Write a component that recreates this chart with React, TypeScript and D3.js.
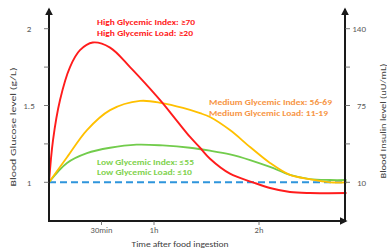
import React from 'react';
import * as d3 from 'd3';

// curves: [minutes after ingestion, blood glucose g/L]
const highGI: [number, number][] = [
  [0, 1.0], [2.3, 1.275], [6.3, 1.536], [12, 1.75], [17.7, 1.86], [25, 1.91],
  [34.9, 1.877], [46.3, 1.75], [57.7, 1.61], [64.6, 1.52], [73.1, 1.4],
  [80.6, 1.295], [86.3, 1.225], [92, 1.153], [103.4, 1.056], [116.5, 1.0],
  [126.3, 0.963], [137.7, 0.937], [149, 0.93], [170, 0.93],
];
const mediumGI: [number, number][] = [
  [0, 1.0], [10.3, 1.163], [21.7, 1.34], [34.9, 1.47], [52, 1.53], [64.6, 1.516],
  [76.6, 1.484], [86.3, 1.45], [92, 1.425], [103.4, 1.34], [114.9, 1.23],
  [126.3, 1.126], [137.7, 1.048], [149, 1.02], [160.6, 1.0], [170, 1.0],
];
const lowGI: [number, number][] = [
  [0, 1.0], [10.3, 1.126], [21.7, 1.19], [34.9, 1.225], [50, 1.245],
  [65, 1.24], [80.6, 1.225], [92, 1.206], [103.4, 1.182], [114.9, 1.145],
  [126.3, 1.1], [137.7, 1.048], [149, 1.021], [160.6, 1.015], [170, 1.015],
];
const baseline: [number, number][] = [[0, 1.0], [170, 1.0]];

const glucoseTicks = [1, 1.5, 2];
const glucoseMinor = [1.25, 1.75];
const insulinTicks = [10, 75, 140];
const insulinMinor = [42.5, 107.5];
const timeTicks = [30, 60, 120];
const timeLabels = ['30min', '1h', '2h'];

const highLabels = ['High Glycemic Index: ≥70', 'High Glycemic Load: ≥20'];
const mediumLabels = ['Medium Glycemic Index: 56-69', 'Medium Glycemic Load: 11-19'];
const lowLabels = ['Low Glycemic Index: ≤55', 'Low Glycemic Load: ≤10'];

const font = 'Calibri, Carlito, "Open Sans", sans-serif';

export default function App() {
  const W = 387, H = 250;
  const x = d3.scaleLinear().domain([0, 170]).range([49, 346.5]);
  const yG = d3.scaleLinear().domain([1, 2]).range([182.3, 28.7]);
  const yI = d3.scaleLinear().domain([10, 140]).range([182.3, 28.7]);
  const line = d3.line<[number, number]>()
    .x(d => x(d[0]))
    .y(d => yG(d[1]))
    .curve(d3.curveCatmullRom.alpha(0.5));

  const left = 49, right = 345, bottom = 221, top = 9;
  const axisCol = '#1a1a1a';
  const tickCol = '#595959';

  return (
    <svg width={W} height={H} style={{ position: 'absolute', left: 0, top: 0, background: '#fff' }}>
      <defs>
        <marker id="arr" viewBox="0 0 10 10" refX="8" refY="5" markerWidth="4" markerHeight="4" orient="auto">
          <path d="M0,0 L10,5 L0,10 z" fill={axisCol} />
        </marker>
      </defs>

      <path d={line(baseline)!} fill="none" stroke="#2e95dc" strokeWidth={2} strokeDasharray="7,4" />
      <path d={line(lowGI)!} fill="none" stroke="#72cc4c" strokeWidth={1.8} />
      <path d={line(mediumGI)!} fill="none" stroke="#ffc000" strokeWidth={1.8} />
      <path d={line(highGI)!} fill="none" stroke="#ff1c1c" strokeWidth={1.9} />

      {/* axes */}
      <line x1={left} y1={bottom} x2={left} y2={top} stroke={axisCol} strokeWidth={2} markerEnd="url(#arr)" />
      <line x1={right} y1={bottom} x2={right} y2={top} stroke={axisCol} strokeWidth={2} markerEnd="url(#arr)" />
      <line x1={left - 1} y1={bottom} x2={right + 1} y2={bottom} stroke={axisCol} strokeWidth={2} markerEnd="url(#arr)" />

      {glucoseTicks.concat(glucoseMinor).map(v => (
        <line key={'gt' + v} x1={left - 5} x2={left} y1={yG(v)} y2={yG(v)} stroke={tickCol} strokeWidth={0.8} />
      ))}
      {glucoseTicks.map(v => (
        <text key={'gl' + v} x={29} y={yG(v) + 3.5} textAnchor="middle" fontFamily={font} fontSize={9} fill={tickCol}>{v}</text>
      ))}
      {insulinTicks.concat(insulinMinor).map(v => (
        <line key={'it' + v} x1={right} x2={right + 5} y1={yI(v)} y2={yI(v)} stroke={tickCol} strokeWidth={0.8} />
      ))}
      {insulinTicks.map(v => (
        <text key={'il' + v} x={366} y={yI(v) + 3.5} textAnchor="end" fontFamily={font} fontSize={9} fill={tickCol}>{v}</text>
      ))}
      {timeTicks.map((v, i) => (
        <g key={'tt' + v}>
          <line x1={x(v)} x2={x(v)} y1={bottom} y2={bottom + 4} stroke={tickCol} strokeWidth={0.8} />
          <text x={x(v)} y={233} textAnchor="middle" fontFamily={font} fontSize={8.5} fill={tickCol}>{timeLabels[i]}</text>
        </g>
      ))}

      <text x={180} y={247} textAnchor="middle" fontFamily={font} fontSize={8.5} fill="#404040" textLength={97} lengthAdjust="spacingAndGlyphs">Time after food ingestion</text>
      <text transform="translate(16,127) rotate(-90)" textAnchor="middle" fontFamily={font} fontSize={8.5} fill="#404040" textLength={119} lengthAdjust="spacingAndGlyphs">Blood Glucose level (g/L)</text>
      <text transform="translate(386,121) rotate(-90)" textAnchor="middle" fontFamily={font} fontSize={8.5} fill="#404040" textLength={115} lengthAdjust="spacingAndGlyphs">Blood Insulin level (uU/mL)</text>

      {highLabels.map((t, i) => (
        <text key={t} x={97} y={25 + i * 10.7} fontFamily={font} fontSize={8} fontWeight="bold" fill="#ff2020" textLength={i === 0 ? 98 : 96} lengthAdjust="spacingAndGlyphs">{t}</text>
      ))}
      {mediumLabels.map((t, i) => (
        <text key={t} x={209} y={105 + i * 10.7} fontFamily={font} fontSize={8} fontWeight="bold" fill="#f79646" textLength={i === 0 ? 123 : 119} lengthAdjust="spacingAndGlyphs">{t}</text>
      ))}
      {lowLabels.map((t, i) => (
        <text key={t} x={97} y={164.5 + i * 10.7} fontFamily={font} fontSize={8} fontWeight="bold" fill="#7fd24e" textLength={i === 0 ? 97 : 95} lengthAdjust="spacingAndGlyphs">{t}</text>
      ))}
    </svg>
  );
}
